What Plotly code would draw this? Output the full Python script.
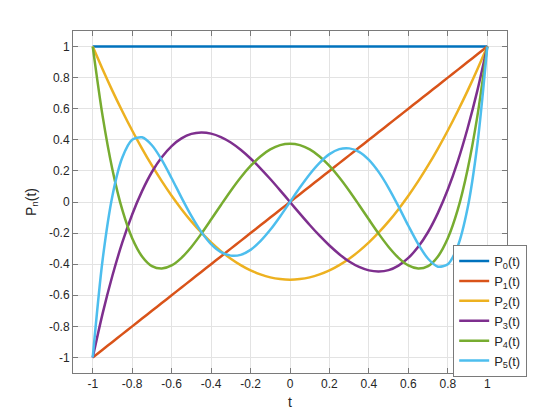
import plotly.graph_objects as go

t = [-1, -0.95, -0.9, -0.85, -0.8, -0.75, -0.7, -0.65, -0.6, -0.55, -0.5, -0.45, -0.4, -0.35, -0.3,
     -0.25, -0.2, -0.15, -0.1, -0.05, 0, 0.05, 0.1, 0.15, 0.2, 0.25, 0.3, 0.35, 0.4, 0.45, 0.5,
     0.55, 0.6, 0.65, 0.7, 0.75, 0.8, 0.85, 0.9, 0.95, 1]

p0 = [1] * 41
p1 = [-1, -0.95, -0.9, -0.85, -0.8, -0.75, -0.7, -0.65, -0.6, -0.55, -0.5, -0.45, -0.4, -0.35, -0.3,
      -0.25, -0.2, -0.15, -0.1, -0.05, 0, 0.05, 0.1, 0.15, 0.2, 0.25, 0.3, 0.35, 0.4, 0.45, 0.5,
      0.55, 0.6, 0.65, 0.7, 0.75, 0.8, 0.85, 0.9, 0.95, 1]
p2 = [1, 0.854, 0.715, 0.584, 0.46, 0.344, 0.235, 0.134, 0.04, -0.046, -0.125, -0.196, -0.26, -0.316,
      -0.365, -0.406, -0.44, -0.466, -0.485, -0.496, -0.5, -0.496, -0.485, -0.466, -0.44, -0.406,
      -0.365, -0.316, -0.26, -0.196, -0.125, -0.046, 0.04, 0.134, 0.235, 0.344, 0.46, 0.584, 0.715,
      0.854, 1]
p3 = [-1, -0.718, -0.473, -0.26, -0.08, 0.07, 0.193, 0.288, 0.36, 0.409, 0.438, 0.447, 0.44, 0.418,
      0.383, 0.336, 0.28, 0.217, 0.148, 0.075, 0, -0.075, -0.148, -0.217, -0.28, -0.336, -0.383,
      -0.418, -0.44, -0.447, -0.438, -0.409, -0.36, -0.288, -0.193, -0.07, 0.08, 0.26, 0.473, 0.718, 1]
p4 = [1, 0.554, 0.208, -0.051, -0.233, -0.35, -0.412, -0.428, -0.408, -0.359, -0.289, -0.205, -0.113,
      -0.019, 0.073, 0.158, 0.232, 0.293, 0.338, 0.366, 0.375, 0.366, 0.338, 0.293, 0.232, 0.158, 0.073,
      -0.019, -0.113, -0.205, -0.289, -0.359, -0.408, -0.428, -0.412, -0.35, -0.233, -0.051, 0.208,
      0.554, 1]
p5 = [-1, -0.373, 0.041, 0.286, 0.4, 0.416, 0.365, 0.271, 0.153, 0.028, -0.09, -0.192, -0.271, -0.323,
      -0.345, -0.34, -0.308, -0.252, -0.179, -0.093, 0, 0.093, 0.179, 0.252, 0.308, 0.34, 0.345, 0.323,
      0.271, 0.192, 0.09, -0.028, -0.153, -0.271, -0.365, -0.416, -0.4, -0.286, -0.041, 0.373, 1]

series = [p0, p1, p2, p3, p4, p5]
names = ["P<sub>0</sub>(t)", "P<sub>1</sub>(t)", "P<sub>2</sub>(t)", "P<sub>3</sub>(t)",
         "P<sub>4</sub>(t)", "P<sub>5</sub>(t)"]
colors = ["#0072BD", "#D95319", "#EDB120", "#7E2F8E", "#77AC30", "#4DBEEE"]

x_ticks = [-1, -0.8, -0.6, -0.4, -0.2, 0, 0.2, 0.4, 0.6, 0.8, 1]
y_ticks = [-1, -0.8, -0.6, -0.4, -0.2, 0, 0.2, 0.4, 0.6, 0.8, 1]

fig = go.Figure()
for ys, nm, c in zip(series, names, colors):
    fig.add_trace(go.Scatter(x=t, y=ys, mode="lines", name=nm,
                             line=dict(color=c, width=2.5, shape="spline", smoothing=0.8)))

axis_common = dict(
    range=[-1.1, 1.1], showgrid=True, gridcolor="#e3e3e3", gridwidth=1,
    zeroline=False, showline=True, linecolor="#7a7a7a", linewidth=1, mirror="ticks",
    ticks="inside", ticklen=5, tickcolor="#7a7a7a", automargin=False,
    tickfont=dict(family="Liberation Sans, Arial", size=12, color="#262626"),
)

fig.update_layout(
    width=552, height=412,
    margin=dict(l=65, r=53, t=23, b=47, autoexpand=False),
    paper_bgcolor="white", plot_bgcolor="white",
    font=dict(family="Liberation Sans, Arial", color="#262626"),
    xaxis=dict(axis_common, tickvals=x_ticks, ticktext=[f"{v:g}" for v in x_ticks],
               title=dict(text="t", font=dict(size=14), standoff=6)),
    yaxis=dict(axis_common, tickvals=y_ticks, ticktext=[f"{v:g}" for v in y_ticks],
               title=dict(text="P<sub>n</sub>(t)", font=dict(size=14), standoff=9)),
    legend=dict(x=0.876, y=-0.012, xanchor="left", yanchor="bottom",
                bgcolor="white", bordercolor="#7a7a7a", borderwidth=1,
                font=dict(size=13, color="#262626"), tracegroupgap=0,
                itemwidth=30),
    showlegend=True,
)

fig.write_html("out.html")
